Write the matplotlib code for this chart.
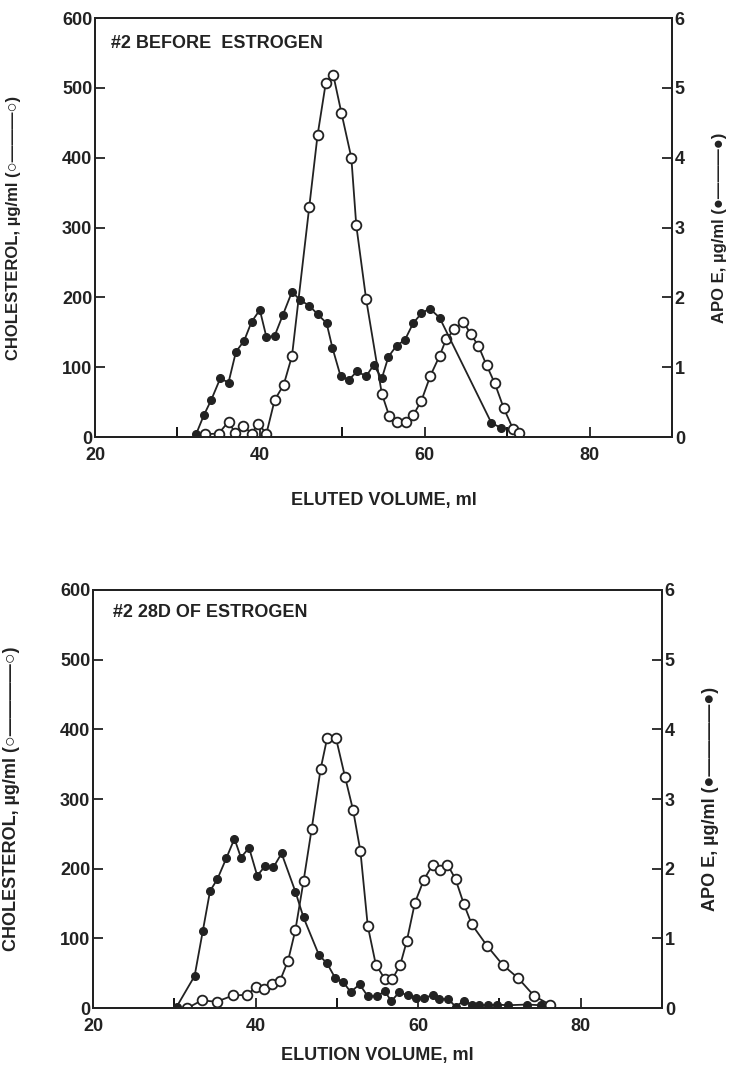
import matplotlib.pyplot as plt
from matplotlib.ticker import MultipleLocator

plt.rcParams['font.family'] = ['Liberation Sans', 'DejaVu Sans']
plt.rcParams['font.weight'] = 'bold'

# top panel: #2 before estrogen
before_chol_x = [33.3, 35.0, 36.2, 37.0, 38.0, 39.0, 39.8, 40.8, 41.8, 42.9, 43.9, 46.0, 47.0,
                 48.0, 48.9, 49.9, 51.1, 51.7, 52.9, 54.8, 55.7, 56.7, 57.7, 58.6, 59.6, 60.7,
                 61.8, 62.6, 63.6, 64.7, 65.6, 66.5, 67.5, 68.5, 69.6, 70.7, 71.5]
before_chol = [4, 5, 22, 6, 16, 5, 19, 5, 53, 75, 116, 330, 432,
               507, 519, 464, 400, 303, 197, 62, 30, 22, 22, 31, 52, 88,
               116, 140, 154, 165, 147, 131, 103, 77, 41, 12, 6]
before_apo_x = [32.3, 33.2, 34.1, 35.2, 36.2, 37.1, 38.1, 39.0, 40.0, 40.8, 41.8, 42.8, 43.9,
                44.9, 46.0, 47.0, 48.1, 48.8, 49.8, 50.8, 51.8, 52.9, 53.8, 54.8, 55.6, 56.6,
                57.6, 58.6, 59.6, 60.6, 61.8, 68.1, 69.3]
before_apo = [0.05, 0.31, 0.53, 0.84, 0.78, 1.22, 1.38, 1.65, 1.82, 1.43, 1.45, 1.75, 2.08,
              1.96, 1.88, 1.76, 1.63, 1.28, 0.87, 0.82, 0.94, 0.87, 1.03, 0.84, 1.15, 1.31,
              1.39, 1.63, 1.77, 1.84, 1.71, 0.20, 0.13]

# bottom panel: #2 28D of estrogen
after_chol_x = [31.6, 33.4, 35.2, 37.2, 39.0, 40.0, 41.0, 42.0, 43.0, 44.0, 44.9, 45.9, 46.9,
                48.0, 48.8, 49.9, 51.0, 52.0, 52.9, 53.8, 54.8, 55.9, 56.8, 57.8, 58.6, 59.6,
                60.7, 61.8, 62.7, 63.6, 64.6, 65.6, 66.6, 68.5, 70.4, 72.3, 74.3, 76.2]
after_chol = [0, 11, 9, 18, 19, 30, 28, 34, 39, 68, 112, 182, 257,
              343, 387, 387, 332, 284, 225, 118, 62, 42, 41, 62, 96, 151,
              184, 206, 198, 206, 185, 150, 120, 89, 62, 43, 17, 5]
after_apo_x = [30.3, 32.5, 33.5, 34.4, 35.3, 36.4, 37.4, 38.2, 39.2, 40.2, 41.2, 42.2, 43.2,
               44.9, 45.9, 47.8, 48.8, 49.8, 50.8, 51.7, 52.8, 53.8, 54.9, 55.9, 56.7, 57.7,
               58.7, 59.7, 60.7, 61.8, 62.6, 63.7, 64.6, 65.6, 66.6, 67.5, 68.6, 69.7, 71.0,
               73.4, 75.1]
after_apo = [0.02, 0.46, 1.10, 1.68, 1.85, 2.15, 2.43, 2.16, 2.30, 1.90, 2.04, 2.02, 2.22,
             1.67, 1.30, 0.76, 0.64, 0.43, 0.37, 0.23, 0.34, 0.17, 0.17, 0.24, 0.10, 0.23,
             0.18, 0.15, 0.15, 0.18, 0.13, 0.13, 0.02, 0.10, 0.05, 0.04, 0.04, 0.05, 0.04,
             0.05, 0.04]

fig = plt.figure(figsize=(7.34, 10.78), dpi=100)
INK = '#222222'
fams = ['Liberation Sans', 'DejaVu Sans']


def panel(rect, chol_x, chol, apo_x, apo, title, xlabel, title_xy, left_lab, right_lab,
          xpad, labsize):
    ax = fig.add_axes(rect)
    ax2 = ax.twinx()
    ax.plot(chol_x, chol, color=INK, lw=1.3, marker='o', ms=7,
            mfc='white', mec=INK, mew=1.3, zorder=3)
    ax2.plot(apo_x, apo, color=INK, lw=1.3, marker='o', ms=5.5,
             mfc=INK, mec=INK, zorder=2)
    ax.set_xlim(20, 90)
    ax.set_ylim(0, 600)
    ax2.set_ylim(0, 6)
    ax.set_xticks([20, 40, 60, 80])
    ax.xaxis.set_minor_locator(MultipleLocator(10))
    ax.yaxis.set_major_locator(MultipleLocator(100))
    ax2.yaxis.set_major_locator(MultipleLocator(1))
    for a in (ax, ax2):
        for s in a.spines.values():
            s.set_linewidth(1.4)
            s.set_color(INK)
        a.tick_params(direction='in', length=7, width=1.3, labelsize=13, pad=2,
                      colors=INK)
        a.tick_params(which='minor', direction='in', length=7, width=1.3)
    ax.tick_params(axis='x', pad=7)
    ax.text(title_xy[0], title_xy[1], title, transform=ax.transAxes, fontsize=13,
            fontweight='bold', color=INK, va='center')
    ax.set_xlabel(xlabel, fontsize=13, fontweight='bold', labelpad=xpad, color=INK)
    ax.set_ylabel(left_lab, fontsize=labsize, fontweight='bold', family=fams, color=INK)
    ax.yaxis.set_label_coords(-0.128, 0.5)
    ax2.set_ylabel(right_lab, fontsize=labsize, fontweight='bold', family=fams, color=INK)
    ax2.yaxis.set_label_coords(1.07, 0.5)
    for t in ax.get_xticklabels() + ax.get_yticklabels() + ax2.get_yticklabels():
        t.set_fontweight('bold')


panel([0.1294, 0.5946, 0.7861, 0.3887], before_chol_x, before_chol, before_apo_x, before_apo,
      '#2 BEFORE  ESTROGEN', 'ELUTED VOLUME, ml', (0.028, 0.94),
      'CHOLESTEROL, µg/ml (○———○)', 'APO E, µg/ml (●———●)', 20, 12)
panel([0.1267, 0.0649, 0.7752, 0.3878], after_chol_x, after_chol, after_apo_x, after_apo,
      '#2 28D OF ESTROGEN', 'ELUTION VOLUME, ml', (0.036, 0.945),
      'CHOLESTEROL, µg/ml (○————○)', 'APO E, µg/ml (●————●)', 9, 13)

fig.savefig('out.png', dpi=100)
